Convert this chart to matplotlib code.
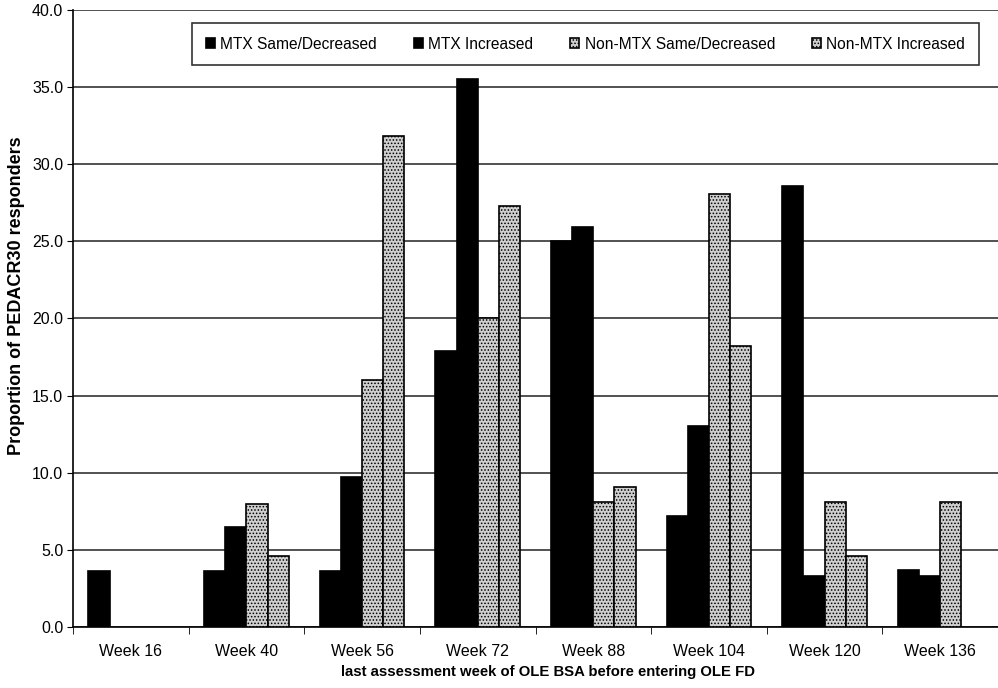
import numpy as np
import matplotlib
matplotlib.use("Agg")
import matplotlib.pyplot as plt

plt.rcParams['font.family'] = ['Liberation Sans', 'DejaVu Sans']
plt.rcParams['hatch.linewidth'] = 0.7

weeks = ['Week 16', 'Week 40', 'Week 56', 'Week 72', 'Week 88', 'Week 104', 'Week 120', 'Week 136']
mtx_same = [3.6, 3.6, 3.6, 17.9, 25.0, 7.2, 28.6, 3.7]
mtx_incr = [0.0, 6.5, 9.7, 35.5, 25.9, 13.0, 3.3, 3.3]
non_same = [0.0, 8.0, 16.0, 20.0, 8.1, 28.1, 8.1, 8.1]
non_incr = [0.0, 4.6, 31.8, 27.3, 9.1, 18.2, 4.6, 0.0]

series = [
    ('MTX Same/Decreased', mtx_same, 'black', None),
    ('MTX Increased', mtx_incr, 'black', None),
    ('Non-MTX Same/Decreased', non_same, '#cfcfcf', '.....'),
    ('Non-MTX Increased', non_incr, '#cfcfcf', '.....'),
]

fig = plt.figure(figsize=(9.98, 6.88), dpi=100)
ax = fig.add_axes([73 / 998, 1 - 627 / 688, 925 / 998, 617 / 688])

x = np.arange(len(weeks))
w = 0.183
for i, (name, vals, fc, hatch) in enumerate(series):
    # zero values are not drawn in the original
    h = np.where(np.array(vals) > 0, vals, np.nan)
    ax.bar(x + (i - 1.5) * w, h, width=w, color=fc, edgecolor='black',
           linewidth=1.2, hatch=hatch, label=name, zorder=3)

ax.set_ylim(0, 40)
ax.set_xlim(-0.5, (998 - 73) / 117 - 0.5)
ax.set_yticks(np.arange(0, 40.1, 5))
ax.set_yticklabels([f'{v:.1f}' for v in np.arange(0, 40.1, 5)], fontsize=11.5)
ax.yaxis.grid(True, color='#222222', linewidth=1.1, zorder=0)
ax.set_axisbelow(True)

ax.set_xticks(x)
ax.set_xticklabels(weeks, fontsize=11.5)
ax.set_xticks(np.arange(-0.5, 8, 1), minor=True)
ax.tick_params(axis='x', which='major', length=0, pad=12)
ax.tick_params(axis='x', which='minor', length=5, direction='out')
ax.tick_params(axis='y', length=4, direction='out', pad=3)

for s in ['top', 'right']:
    ax.spines[s].set_visible(False)
ax.spines['left'].set_linewidth(1.2)
ax.spines['bottom'].set_linewidth(1.2)

ax.set_ylabel('Proportion of PEDACR30 responders', fontsize=13, fontweight='bold')
ax.yaxis.set_label_coords(-0.052, 0.537)
ax.set_xlabel('last assessment week of OLE BSA before entering OLE FD', fontsize=10.7,
              fontweight='bold')
ax.xaxis.set_label_coords(0.5135, -0.0616)

leg = ax.legend(loc='upper left', bbox_to_anchor=(119 / 925, 1 - 13 / 617), ncol=4,
                fontsize=11.2, frameon=True, fancybox=False, handlelength=0.6,
                handleheight=0.6, handletextpad=0.35, columnspacing=2.35,
                borderpad=0.88, borderaxespad=0)
leg.get_frame().set_edgecolor('black')
leg.get_frame().set_linewidth(1.2)

fig.savefig('out.png', dpi=100)
